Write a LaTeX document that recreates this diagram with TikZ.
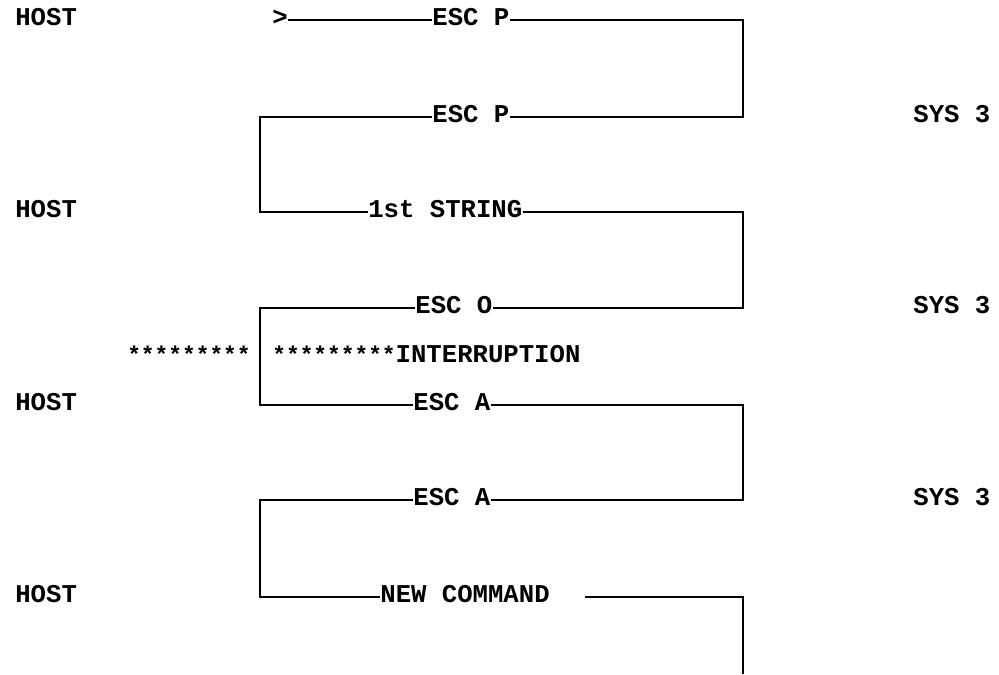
\documentclass[tikz,border=0pt]{standalone}
\usepackage{fontspec}
\setmonofont{Liberation Mono}
\usepackage{tikz}
\usetikzlibrary{positioning}

\newcommand{\starrow}{{\fontsize{13pt}{15pt}\selectfont *********}}

\tikzset{
  txt/.style={font=\ttfamily\bfseries\fontsize{14.6pt}{17pt}\selectfont, inner sep=0pt, anchor=west, text height=0.62em, text depth=0pt},
  wire/.style={line width=1.1pt}
}

\begin{document}
\begin{tikzpicture}[x=0.02cm, y=-0.02cm]
\useasboundingbox (0,0) rectangle (999,674);
\coordinate (lx) at (260,0);
\coordinate (rx) at (743,0);
% side labels
\foreach \i/\y in {1/20,2/212,3/405,4/597}
  \node[txt] (host\i) at (15,\y) {HOST};
\foreach \i/\y in {1/117,2/308,3/500}
  \node[txt] (sys\i) at (913,\y) {SYS 3};
% messages
\node[txt] (start) at (272,20) {>};
\node[txt] (escP1) at (432,20) {ESC P};
\node[txt] (escP2) at (432,117) {ESC P};
\node[txt] (str1) at (368,212) {1st STRING};
\node[txt] (escO) at (415,308) {ESC O};
\node[txt, anchor=east] (starsL) at (251,357) {\starrow};
\node[txt] (intr) at (272,357) {\starrow INTERRUPTION};
\node[txt] (escA1) at (413,405) {ESC A};
\node[txt] (escA2) at (413,500) {ESC A};
\node[txt] (newcmd) at (380,597) {NEW COMMAND};
\coordinate (gapR) at (585,597);
\coordinate (tail) at (743,674);
% lines
\draw[wire] (start.east) -- (escP1.west);
\draw[wire] (escP1.east) -- (escP1 -| rx) -- (escP2 -| rx) -- (escP2.east);
\draw[wire] (escP2.west) -- (escP2 -| lx) -- (str1 -| lx) -- (str1.west);
\draw[wire] (str1.east) -- (str1 -| rx) -- (escO -| rx) -- (escO.east);
\draw[wire] (escO.west) -- (escO -| lx) -- (escA1 -| lx) -- (escA1.west);
\draw[wire] (escA1.east) -- (escA1 -| rx) -- (escA2 -| rx) -- (escA2.east);
\draw[wire] (escA2.west) -- (escA2 -| lx) -- (newcmd -| lx) -- (newcmd.west);
\draw[wire] (gapR) -- (gapR -| rx) -- (tail);
\end{tikzpicture}
\end{document}
